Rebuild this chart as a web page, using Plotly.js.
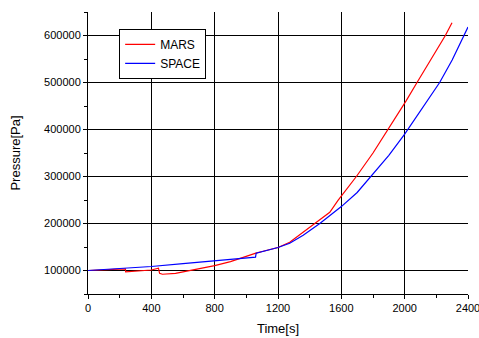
<!DOCTYPE html>
<html>
<head>
<meta charset="utf-8">
<script src="https://cdn.plot.ly/plotly-3.0.1.min.js"></script>
<style>html,body{margin:0;padding:0;background:#fff;}#chart{width:479px;height:338px;}</style>
</head>
<body>
<div id="chart"></div>
<script>
var marsTime = [0,100,180,236,238,300,400,445,452,470,500,550,553,600,700,800,900,960,1000,1060,1100,1148,1200,1274,1359,1432,1480,1527,1579,1653,1695,1800,1895,2011,2078,2170,2257,2299];
var marsPressure = [100000,101000,102500,103500,97000,98000,101000,105000,94000,92000,92500,94500,94000,97000,103000,110500,119000,126000,130000,137000,140500,144000,149000,160000,181000,200000,212000,224000,249000,281000,300000,350000,400000,462000,500000,552000,600000,627000];
var spaceTime = [0,200,400,600,800,1000,1058,1062,1100,1200,1274,1359,1464,1550,1600,1700,1779,1900,2000,2100,2221,2300,2372,2400];
var spacePressure = [100000,104000,108500,114500,120500,126500,128500,137000,140000,149000,158000,175000,200000,222000,236000,266000,297000,345000,390000,440000,500000,548000,598000,618000];
var xTicks = [0,400,800,1200,1600,2000,2400];

var font = 'Liberation Sans, Arial, sans-serif';
var traces = [
  {x: marsTime, y: marsPressure, type: 'scatter', mode: 'lines', name: 'MARS', line: {color: '#ff0000', width: 1.2}},
  {x: spaceTime, y: spacePressure, type: 'scatter', mode: 'lines', name: 'SPACE', line: {color: '#0000ff', width: 1.2}}
];
var layout = {
  width: 479, height: 338,
  margin: {l: 88, r: 11, t: 12, b: 44},
  paper_bgcolor: '#fff', plot_bgcolor: '#fff',
  font: {family: font, size: 11, color: '#000'},
  showlegend: true,
  legend: {x: 0.082, y: 0.94, xanchor: 'left', yanchor: 'top', bgcolor: '#fff', bordercolor: '#000', borderwidth: 1, font: {family: font, size: 12, color: '#000'}, tracegroupgap: 0},
  xaxis: {
    range: [0, 2400], tickvals: xTicks, ticktext: xTicks.map(String), ticklabeloverflow: 'allow',
    showgrid: true, gridcolor: '#000', gridwidth: 1, zeroline: false,
    showline: true, linecolor: '#000', linewidth: 1,
    ticks: 'outside', ticklen: 4, tickcolor: '#000',
    minor: {dtick: 200, tick0: 0, ticks: 'outside', ticklen: 3, tickcolor: '#000', showgrid: false},
    tickfont: {family: font, size: 11, color: '#000'},
    title: {text: 'Time[s]', font: {family: font, size: 13, color: '#000'}, standoff: 10}
  },
  yaxis: {
    range: [50000, 650000], dtick: 100000, tick0: 0, tickformat: 'd',
    showgrid: true, gridcolor: '#000', gridwidth: 1, zeroline: false,
    showline: true, linecolor: '#000', linewidth: 1,
    ticks: 'outside', ticklen: 4, tickcolor: '#000',
    minor: {dtick: 50000, tick0: 0, ticks: 'outside', ticklen: 3, tickcolor: '#000', showgrid: false},
    tickfont: {family: font, size: 11, color: '#000'},
    title: {text: 'Pressure[Pa]', font: {family: font, size: 13, color: '#000'}, standoff: 20}
  },
  xaxis2: {
    overlaying: 'x', side: 'top', anchor: 'y', range: [0, 2400], dtick: 200, tick0: 0,
    showgrid: false, zeroline: false, showline: true, linecolor: '#000', linewidth: 1,
    ticks: 'inside', ticklen: 4, tickcolor: '#000', showticklabels: false
  },
  yaxis2: {
    overlaying: 'y', side: 'right', anchor: 'x', range: [50000, 650000], dtick: 50000, tick0: 0,
    showgrid: false, zeroline: false, showline: true, linecolor: '#000', linewidth: 1,
    ticks: 'inside', ticklen: 4, tickcolor: '#000', showticklabels: false
  }
};
Plotly.newPlot('chart', traces, layout, {staticPlot: true, displayModeBar: false});
</script>
</body>
</html>
